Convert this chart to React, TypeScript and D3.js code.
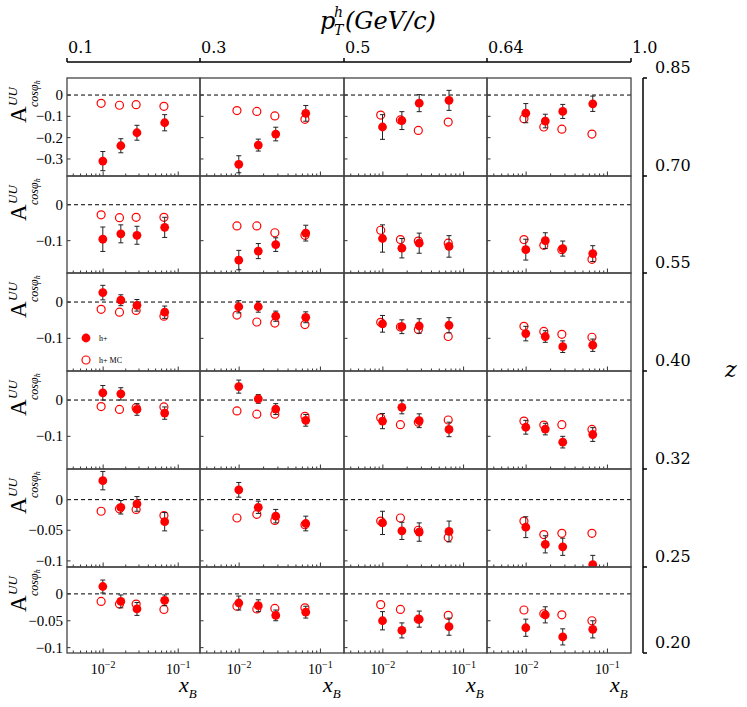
import React from 'react';
import * as d3 from 'd3';

// bin edges shown on the outer axes
const ptEdges = ['0.1', '0.3', '0.5', '0.64', '1.0'];
const zEdges = ['0.85', '0.70', '0.55', '0.40', '0.32', '0.25', '0.20'];

// x_B positions of the four bins
const xB = [0.0099, 0.0172, 0.0282, 0.066];
const xBMC = [0.0094, 0.0165, 0.0275, 0.0645];

// y-axis settings per z row
const yDomains: [number, number][] = [
  [-0.38, 0.08],
  [-0.19, 0.08],
  [-0.19, 0.08],
  [-0.19, 0.08],
  [-0.11, 0.05],
  [-0.11, 0.05],
];
const yTicks = [
  [0, -0.1, -0.2, -0.3],
  [0, -0.1],
  [0, -0.1],
  [0, -0.1],
  [0, -0.05, -0.1],
  [0, -0.05, -0.1],
];
const xDomain: [number, number] = [0.0033, 0.195];
const xLabelTicks = [0.01, 0.1];

// h+ data: [row][column][bin]
const hData = [
  [[-0.31, -0.238, -0.177, -0.13], [-0.325, -0.235, -0.183, -0.086], [-0.15, -0.12, -0.038, -0.025], [-0.085, -0.122, -0.077, -0.041]],
  [[-0.096, -0.081, -0.085, -0.063], [-0.154, -0.129, -0.111, -0.079], [-0.094, -0.121, -0.107, -0.116], [-0.125, -0.1, -0.122, -0.136]],
  [[0.026, 0.005, -0.009, -0.028], [-0.013, -0.013, -0.039, -0.042], [-0.06, -0.068, -0.066, -0.064], [-0.087, -0.095, -0.123, -0.119]],
  [[0.02, 0.017, -0.026, -0.036], [0.037, 0.003, -0.025, -0.056], [-0.058, -0.02, -0.057, -0.081], [-0.075, -0.08, -0.116, -0.095]],
  [[0.031, -0.0125, -0.007, -0.036], [0.016, -0.0125, -0.027, -0.039], [-0.038, -0.051, -0.053, -0.052], [-0.045, -0.073, -0.077, -0.106]],
  [[0.0137, -0.014, -0.028, -0.012], [-0.017, -0.022, -0.04, -0.034], [-0.05, -0.068, -0.047, -0.061], [-0.063, -0.039, -0.08, -0.066]],
];
const hErr = [
  [[0.045, 0.033, 0.035, 0.038], [0.04, 0.028, 0.032, 0.037], [0.058, 0.042, 0.04, 0.047], [0.045, 0.032, 0.033, 0.036]],
  [[0.034, 0.025, 0.025, 0.028], [0.027, 0.021, 0.019, 0.022], [0.038, 0.027, 0.028, 0.03], [0.029, 0.022, 0.021, 0.022]],
  [[0.02, 0.015, 0.016, 0.017], [0.017, 0.015, 0.014, 0.015], [0.023, 0.019, 0.02, 0.021], [0.02, 0.016, 0.016, 0.017]],
  [[0.02, 0.017, 0.016, 0.017], [0.018, 0.012, 0.015, 0.016], [0.021, 0.018, 0.019, 0.02], [0.019, 0.016, 0.016, 0.019]],
  [[0.015, 0.011, 0.012, 0.015], [0.012, 0.01, 0.011, 0.012], [0.019, 0.014, 0.015, 0.017], [0.017, 0.014, 0.014, 0.015]],
  [[0.012, 0.012, 0.012, 0.01], [0.013, 0.011, 0.01, 0.011], [0.017, 0.014, 0.015, 0.016], [0.016, 0.015, 0.015, 0.016]],
];
// h+ MC
const mcData = [
  [[-0.039, -0.048, -0.045, -0.053], [-0.073, -0.077, -0.098, -0.114], [-0.094, -0.117, -0.166, -0.127], [-0.111, -0.15, -0.16, -0.183]],
  [[-0.028, -0.036, -0.035, -0.035], [-0.059, -0.059, -0.078, -0.085], [-0.071, -0.097, -0.101, -0.107], [-0.097, -0.113, -0.125, -0.152]],
  [[-0.02, -0.028, -0.023, -0.039], [-0.036, -0.055, -0.058, -0.062], [-0.056, -0.069, -0.076, -0.095], [-0.067, -0.081, -0.089, -0.097]],
  [[-0.018, -0.026, -0.021, -0.019], [-0.03, -0.039, -0.039, -0.045], [-0.049, -0.068, -0.061, -0.055], [-0.058, -0.069, -0.068, -0.081]],
  [[-0.019, -0.015, -0.016, -0.026], [-0.03, -0.024, -0.034, -0.041], [-0.035, -0.03, -0.05, -0.062], [-0.035, -0.057, -0.055, -0.055]],
  [[-0.014, -0.019, -0.019, -0.029], [-0.023, -0.028, -0.027, -0.026], [-0.02, -0.029, -0.047, -0.04], [-0.03, -0.037, -0.039, -0.05]],
];

const legendLabels = ['h+', 'h+ MC'];

// layout
const W = 747;
const H = 707;
const colEdges = [67, 200, 344, 487, 631];
const rowEdges = [78, 176, 273, 371, 469, 567, 653];
const RED = '#ff0000';
const SERIF = '"Liberation Serif", "Times New Roman", serif';
const SERIF2 = '"DejaVu Serif", serif';

const fmtY = (v: number) => (v === 0 ? '0' : '\u2212' + String(Math.abs(v)));
const expOf = (v: number) => Math.round(Math.log10(v));

function Panel({ r, c }: { r: number; c: number }) {
  const x0 = colEdges[c];
  const x1 = colEdges[c + 1];
  const y0 = rowEdges[r];
  const y1 = rowEdges[r + 1];
  const xs = d3.scaleLog().domain(xDomain).range([x0, x1]);
  const ys = d3.scaleLinear().domain(yDomains[r]).range([y1, y0]);
  const clipId = `clip-${r}-${c}`;
  const minor = xs.ticks();
  const h = hData[r][c];
  const e = hErr[r][c];
  const mc = mcData[r][c];
  return (
    <g>
      <defs>
        <clipPath id={clipId}>
          <rect x={x0} y={y0} width={x1 - x0} height={y1 - y0} />
        </clipPath>
      </defs>
      {/* zero line */}
      <line x1={x0} x2={x1} y1={ys(0)} y2={ys(0)} stroke="#000" strokeWidth={1} strokeDasharray="4,3" />
      {/* y ticks inward */}
      {yTicks[r].map((t) => (
        <line key={'yt' + t} x1={x0} x2={x0 + 3.5} y1={ys(t)} y2={ys(t)} stroke="#333" strokeWidth={1} />
      ))}
      {/* x ticks along bottom */}
      {minor.map((t, i) => {
        const major = Math.abs(Math.log10(t) - Math.round(Math.log10(t))) < 1e-6;
        return (
          <line key={'xt' + i} x1={xs(t)} x2={xs(t)} y1={y1} y2={y1 - (major ? 4.5 : 2.5)} stroke="#333" strokeWidth={1} />
        );
      })}
      <g clipPath={`url(#${clipId})`}>
        {mc.map((v, i) => (
          <circle key={'mc' + i} cx={xs(xBMC[i])} cy={ys(v)} r={4} fill="none" stroke={RED} strokeWidth={1.2} />
        ))}
        {h.map((v, i) => {
          const cx = xs(xB[i]);
          const top = ys(v + e[i]);
          const bot = ys(v - e[i]);
          return (
            <g key={'eb' + i} stroke="#222" strokeWidth={1}>
              <line x1={cx} x2={cx} y1={top} y2={bot} />
              <line x1={cx - 2.5} x2={cx + 2.5} y1={top} y2={top} />
              <line x1={cx - 2.5} x2={cx + 2.5} y1={bot} y2={bot} />
            </g>
          );
        })}
        {h.map((v, i) => (
          <circle key={'h' + i} cx={xs(xB[i])} cy={ys(v)} r={4.4} fill={RED} />
        ))}
      </g>
      <rect x={x0} y={y0} width={x1 - x0} height={y1 - y0} fill="none" stroke="#444" strokeWidth={1.3} />
      {/* y tick labels for first column */}
      {c === 0 &&
        yTicks[r].map((t) => (
          <text key={'yl' + t} x={x0 - 4} y={ys(t) + 5} textAnchor="end" fontFamily={SERIF} fontSize={15} fill="#000">
            {fmtY(t)}
          </text>
        ))}
      {/* x tick labels for last row */}
      {r === rowEdges.length - 2 &&
        xLabelTicks.map((t) => (
          <text key={'xl' + t} x={xs(t)} y={674} textAnchor="middle" fontFamily={SERIF} fontSize={14} fill="#000">
            10
            <tspan fontSize={10} dy={-6}>
              {'\u2212' + Math.abs(expOf(t))}
            </tspan>
          </text>
        ))}
      {r === rowEdges.length - 2 && (
        <text x={x1 - 21} y={692} fontFamily={SERIF} fontStyle="italic" fontSize={22} fill="#000">
          x
          <tspan fontSize={13} dy={6}>
            B
          </tspan>
        </text>
      )}
    </g>
  );
}

function YLabel({ r }: { r: number }) {
  const y = rowEdges[r] + 45;
  return (
    <g transform={`translate(26, ${y}) rotate(-90)`} fill="#000">
      <text x={0} y={0} fontFamily={SERIF} fontSize={23}>
        A
      </text>
      <text x={17} y={-9} fontFamily={SERIF} fontStyle="italic" fontSize={13}>
        UU
      </text>
      <text x={16} y={12} fontFamily={SERIF} fontStyle="italic" fontSize={12}>
        {'cos\u03c6'}
        <tspan fontSize={8} dy={2}>
          h
        </tspan>
      </text>
    </g>
  );
}

export default function App() {
  const rows = d3.range(rowEdges.length - 1);
  const cols = d3.range(colEdges.length - 1);
  const zTop = rowEdges[0];
  const zBot = rowEdges[rowEdges.length - 1];
  return (
    <svg
      width={W}
      height={H}
      viewBox={`0 0 ${W} ${H}`}
      style={{ position: 'absolute', left: 0, top: 0, background: '#fff' }}
    >
      <rect x={0} y={0} width={W} height={H} fill="#fff" />
      {/* title */}
      <text x={320} y={29} fontFamily={SERIF2} fontStyle="italic" fontSize={24} fill="#000">
        p
      </text>
      <text x={334} y={17} fontFamily={SERIF2} fontStyle="italic" fontSize={14} fill="#000">
        h
      </text>
      <text x={334} y={35} fontFamily={SERIF2} fontStyle="italic" fontSize={14} fill="#000">
        T
      </text>
      <text x={345} y={29} fontFamily={SERIF2} fontStyle="italic" fontSize={24} fill="#000">
        (GeV/c)
      </text>
      {/* top pT axis */}
      <line x1={colEdges[0]} x2={colEdges[colEdges.length - 1]} y1={62} y2={62} stroke="#000" strokeWidth={1.5} />
      {ptEdges.map((lab, i) => (
        <g key={'pt' + i}>
          <line x1={colEdges[i]} x2={colEdges[i]} y1={62} y2={58} stroke="#000" strokeWidth={1.5} />
          <text x={colEdges[i] + 1} y={53} fontFamily={SERIF2} fontSize={16} fill="#000">
            {lab}
          </text>
        </g>
      ))}
      {/* right z axis */}
      <line x1={643} x2={643} y1={zTop} y2={zBot} stroke="#000" strokeWidth={1.5} />
      {zEdges.map((lab, i) => (
        <g key={'z' + i}>
          <line x1={643} x2={647} y1={rowEdges[i]} y2={rowEdges[i]} stroke="#000" strokeWidth={1.5} />
          <text x={655} y={rowEdges[i] - 5} fontFamily={SERIF2} fontSize={16} fill="#000">
            {lab}
          </text>
        </g>
      ))}
      <text x={725} y={377} fontFamily={SERIF2} fontStyle="italic" fontSize={22} fill="#000">
        z
      </text>
      {rows.map((r) => cols.map((c) => <Panel key={`p${r}-${c}`} r={r} c={c} />))}
      {rows.map((r) => (
        <YLabel key={'yl' + r} r={r} />
      ))}
      {/* legend in panel (row 3, col 1) */}
      <g>
        <circle cx={86} cy={338} r={4.4} fill={RED} />
        <text x={99} y={341} fontFamily={SERIF} fontSize={8} fill="#000">
          {legendLabels[0]}
        </text>
        <circle cx={86} cy={360} r={4} fill="none" stroke={RED} strokeWidth={1.2} />
        <text x={99} y={363} fontFamily={SERIF} fontSize={8} fill="#000">
          {legendLabels[1]}
        </text>
      </g>
    </svg>
  );
}
